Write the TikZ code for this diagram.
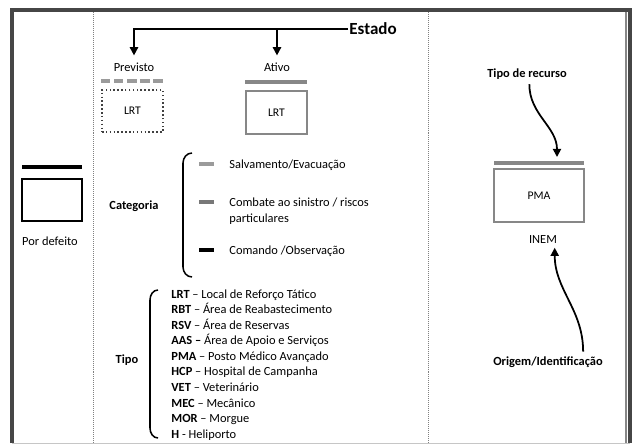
\documentclass[tikz,border=0pt]{standalone}
\usepackage{fontspec}
\setmainfont{Carlito}
\usetikzlibrary{arrows.meta, positioning, calc}
\definecolor{framegray}{RGB}{70,70,70}
\definecolor{barlight}{RGB}{155,155,155}
\definecolor{barmid}{RGB}{120,120,120}
\definecolor{boxgray}{RGB}{135,135,135}

\tikzset{
  pointer/.style={line width=1.5pt, -{Triangle[width=7pt,length=7pt]}},
  sep/.style={densely dotted, gray, line width=0.7pt},
  lbl/.style={font=\fontsize{10.6}{13.3}\selectfont, inner sep=1pt},
  hdr/.style={font=\fontsize{10.6}{13.3}\selectfont\bfseries, inner sep=1pt},
  symbox/.style={minimum width=1.83cm, minimum height=1.25cm, inner sep=0pt,
    font=\fontsize{10}{12}\selectfont},
  statebar/.style={line width=3pt},
}

\begin{document}
\begin{tikzpicture}[x=0.03cm, y=-0.03cm]
  \useasboundingbox (0,0) rectangle (635,445);

  % frame and column separators
  \draw[gray!45, line width=0.8pt] (12,443) -- (630,443);
  \draw[boxgray, line width=2pt] (626,11) -- (626,443);
  \draw[framegray, line width=3pt] (630,443) -- (630,10) -- (12,10) -- (12,443);
  \draw[sep] (93,12) -- (93,443);
  \draw[sep] (428,12) -- (428,443);

  % estado
  \node[font=\fontsize{14.5}{16}\selectfont\bfseries, anchor=west, inner sep=1pt] (estado) at (348,29) {Estado};
  \node[lbl] (prevlbl) at (134,67) {Previsto};
  \node[lbl] (ativolbl) at (277,67) {Ativo};
  \draw[pointer, shorten >=5pt] (estado.west) -| (prevlbl.north);
  \draw[pointer, shorten >=5pt] (estado.west -| ativolbl.north) -- (ativolbl.north);

  \draw[statebar, barlight, dash pattern=on 8pt off 3.2pt] (101,81) -- (164,81);
  \node[symbox, draw=darkgray, dotted, line width=1.3pt] (prevbox) at (132.5,111) {LRT};
  \draw[statebar, boxgray] (245,82) -- (307,82);
  \node[symbox, draw=boxgray, line width=2.2pt, minimum height=1.29cm] (ativobox) at (276.5,112.5) {LRT};

  % por defeito
  \draw[statebar, black] (22,167) -- (82,167);
  \node[symbox, draw=black, line width=1.6pt, minimum width=1.8cm, minimum height=1.26cm] (defbox) at (52,200) {};
  \node[lbl] (deflbl) at (50,241) {Por defeito};

  % categoria
  \node[hdr] (categoria) at (134,206) {Categoria};
  \draw[line width=1.3pt] (192,153) to[out=180,in=90] (183,163) -- (183,267) to[out=-90,in=180] (192,277);
  \draw[statebar, barlight] (199,164) -- (214,164);
  \draw[statebar, barmid] (199,202) -- (214,202);
  \draw[statebar, black] (199,250) -- (214,250);
  \node[lbl, anchor=west] (salv) at (228,165) {Salvamento/Evacuação};
  \node[lbl, anchor=west, align=left] (combate) at (228,211) {Combate ao sinistro / riscos\\particulares};
  \node[lbl, anchor=west] (comando) at (228,251) {Comando /Observação};

  % tipo
  \node[hdr] (tipo) at (127,360) {Tipo};
  \draw[line width=1.3pt] (158,290) to[out=180,in=90] (150,300) -- (150,428) to[out=-90,in=180] (158,438);
  \node[lbl, anchor=north west, align=left] (lista) at (170,288) {%
    \textbf{LRT} -- Local de Reforço Tático\\
    \textbf{RBT} -- Área de Reabastecimento\\
    \textbf{RSV} -- Área de Reservas\\
    \textbf{AAS --} Área de Apoio e Serviços\\
    \textbf{PMA} -- Posto Médico Avançado\\
    \textbf{HCP} -- Hospital de Campanha\\
    \textbf{VET} -- Veterinário\\
    \textbf{MEC} -- Mecânico\\
    \textbf{MOR} -- Morgue\\
    \textbf{H} - Heliporto};

  % exemplo PMA
  \node[hdr] (recurso) at (527,74) {Tipo de recurso};
  \draw[statebar, boxgray] (494,163) -- (584,163);
  \node[symbox, draw=boxgray, line width=2.2pt, minimum width=2.7cm, minimum height=1.59cm] (pmabox) at (539,195.5) {PMA};
  \coordinate (pmatip) at (557,157);
  \node[lbl] (inem) at (543,240) {INEM};
  \node[hdr] (origem) at (548,362) {Origem/Identificação};
  \draw[pointer] ([xshift=2pt, yshift=-3pt]recurso.south) to[out=-90,in=90] (pmatip);
  \draw[pointer] ([xshift=30pt, yshift=3pt]origem.north) to[out=90,in=-90] ([xshift=10pt, yshift=-2pt]inem.south);
\end{tikzpicture}
\end{document}
